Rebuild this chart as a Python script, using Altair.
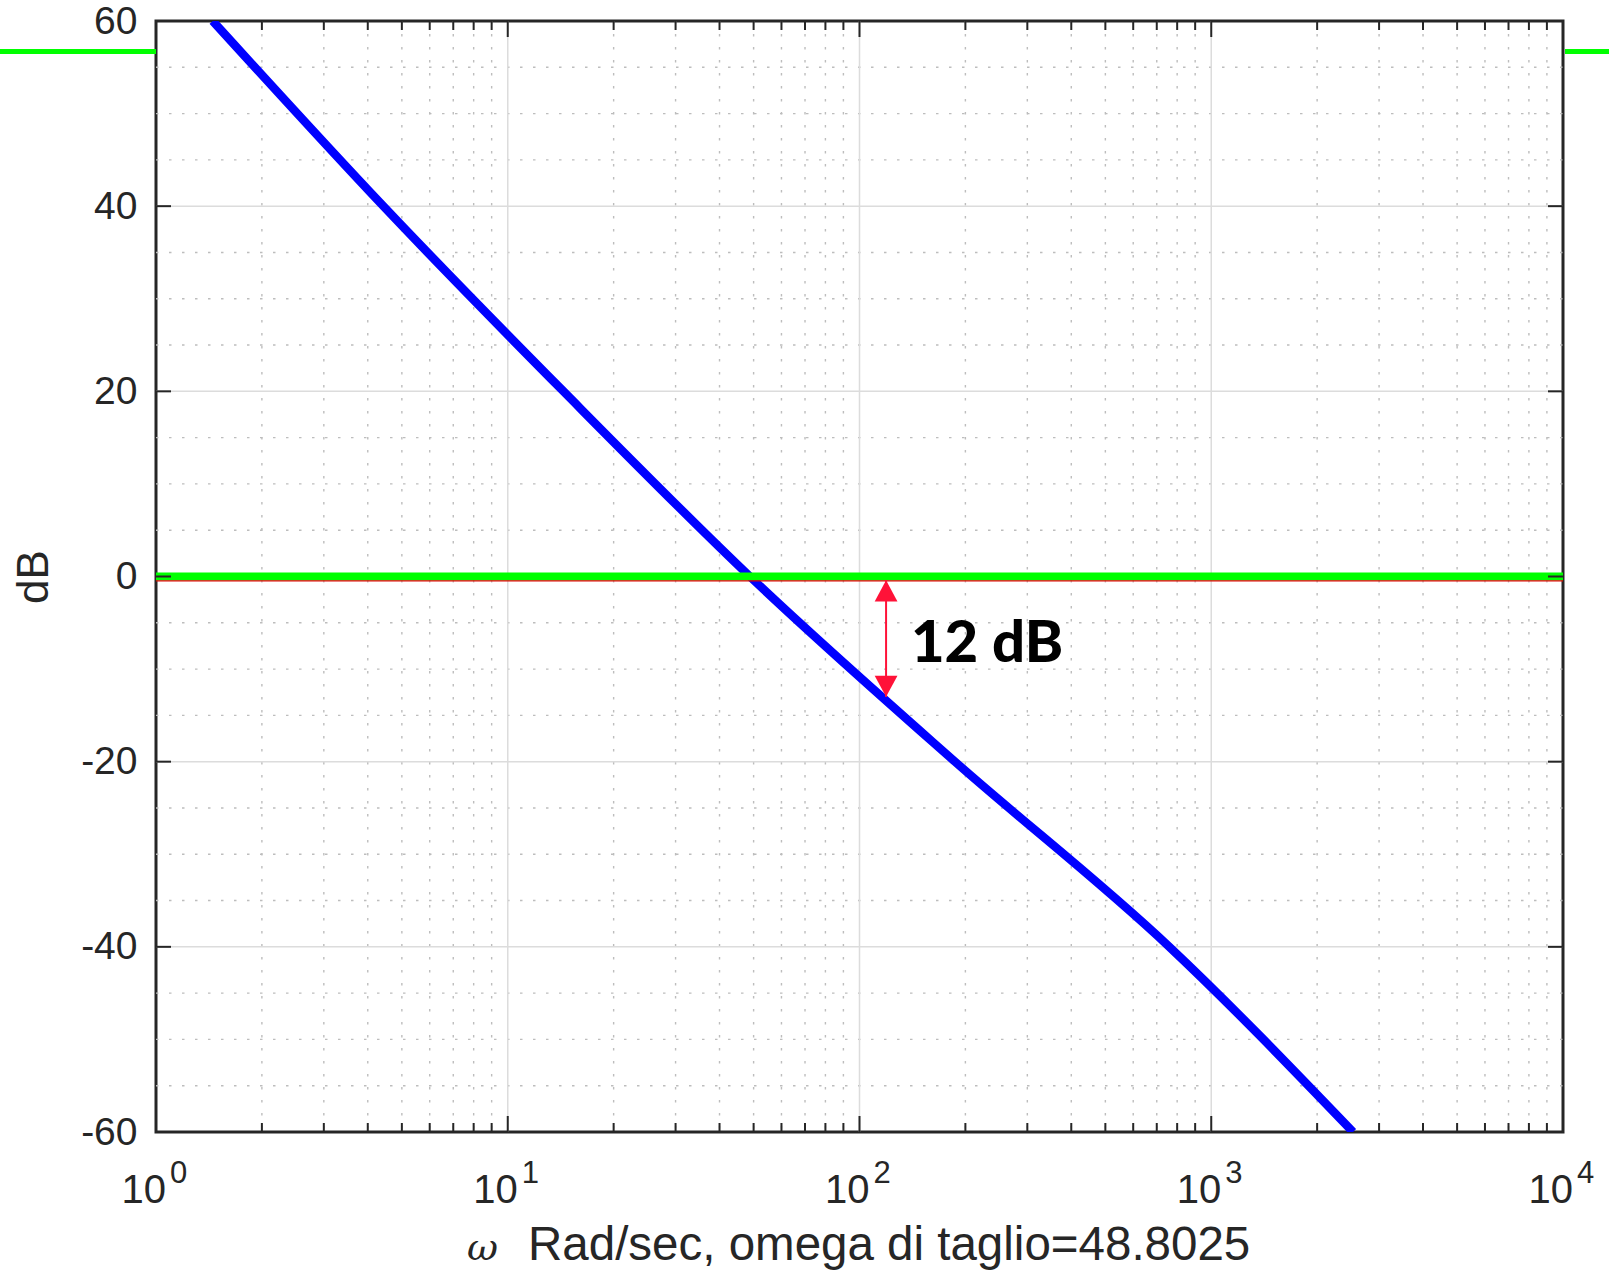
import altair as alt
import pandas as pd

# ---- data ----
omega = [1.45, 4.43, 14.4, 48.8, 186.8, 760, 2530]
mag_db = [60, 40, 20, 0, -20, -40, -60]

decades = [1, 10, 100, 1000, 10000]
decade_exp = ["0", "1", "2", "3", "4"]
x_major_grid = [10, 100, 1000]
x_minor = [m * d for d in [1, 10, 100, 1000] for m in range(2, 10)]
y_ticks = [-60, -40, -20, 0, 20, 40, 60]
y_major_grid = [-40, -20, 0, 20, 40]
y_minor = [v for v in range(-55, 60, 5) if v % 20 != 0]

crossover_db = 0
outer_green_db = 56.7
arrow_omega = 119
arrow_db = [-0.4, -13.0]
label_text = "12 dB"
label_omega = 140
label_db = -9.2
x_title_sym = "ω"
x_title_rest = "Rad/sec, omega di taglio=48.8025"
y_title = "dB"

W, H = 1407, 1111
FONT = "Liberation Sans"
AX = "#262626"

xs = alt.Scale(type="log", domain=[1, 10000], nice=False)
ys = alt.Scale(domain=[-60, 60], nice=False, zero=False)

YAXIS = alt.Axis(
    values=y_ticks, grid=False, ticks=False, domain=False,
    labelFontSize=39, labelFont=FONT, labelColor=AX, labelPadding=19,
    labelFlush=False, labelOverlap=False, labelBound=False,
    labelExpr="toString(datum.value)",
    title=y_title, titleFont=FONT, titleFontSize=44, titleFontWeight="normal",
    titleColor=AX, titlePadding=24)

df_line = pd.DataFrame({"w": omega, "db": mag_db})
df_dec = pd.DataFrame({"w": decades, "e": decade_exp, "b": ["10"] * len(decades)})
df_xmaj = pd.DataFrame({"w": x_major_grid})
df_xmin = pd.DataFrame({"w": x_minor})
df_ytick = pd.DataFrame({"db": y_ticks})
df_ymaj = pd.DataFrame({"db": y_major_grid})
df_ymin = pd.DataFrame({"db": y_minor})

X = lambda: alt.X("w:Q", scale=xs, axis=None)
Yn = lambda: alt.Y("db:Q", scale=ys, axis=YAXIS)

minor_y = alt.Chart(df_ymin).mark_rule(color="#bdbdbd", strokeWidth=1.4, strokeDash=[2.5, 10.5]).encode(
    y=Yn(), x=alt.value(0), x2=alt.value(W))
minor_x = alt.Chart(df_xmin).mark_rule(color="#bdbdbd", strokeWidth=1.4, strokeDash=[2.5, 10.5]).encode(
    x=X(), y=alt.value(0), y2=alt.value(H))
major_x = alt.Chart(df_xmaj).mark_rule(color="#dcdcdc", strokeWidth=1.5).encode(
    x=X(), y=alt.value(0), y2=alt.value(H))
major_y = alt.Chart(df_ymaj).mark_rule(color="#dcdcdc", strokeWidth=1.5).encode(
    y=Yn(), x=alt.value(0), x2=alt.value(W))

df_outer = pd.DataFrame({"db": [outer_green_db]})
outer_l = alt.Chart(df_outer).mark_rule(color="#00ff00", strokeWidth=5).encode(
    y=Yn(), x=alt.value(-156), x2=alt.value(0))
outer_r = alt.Chart(df_outer).mark_rule(color="#00ff00", strokeWidth=5).encode(
    y=Yn(), x=alt.value(W + 2), x2=alt.value(W + 46))

blue = alt.Chart(df_line).mark_line(color="#0000ff", strokeWidth=8.5, clip=True,
                                    interpolate="monotone").encode(x=X(), y=Yn())

df_zero = pd.DataFrame({"db": [crossover_db]})
green = alt.Chart(df_zero).mark_rule(color="#00ff00", strokeWidth=8).encode(
    y=Yn(), x=alt.value(0), x2=alt.value(W))
red_thin = alt.Chart(df_zero).mark_rule(color="#e00000", strokeWidth=1.3, yOffset=4.3).encode(
    y=Yn(), x=alt.value(0), x2=alt.value(W))

RED = "#ff1238"
df_arrow = pd.DataFrame({"w": [arrow_omega], "db": [arrow_db[0]], "db2": [arrow_db[1]]})
shaft = alt.Chart(df_arrow).mark_rule(color=RED, strokeWidth=2).encode(
    x=X(), y=Yn(), y2="db2:Q")
head_up = alt.Chart(df_arrow).mark_point(
    shape="M0,0L-1,1.86L1,1.86Z", filled=True, size=520, color=RED, opacity=1, strokeWidth=0).encode(
    x=X(), y=Yn())
head_dn = alt.Chart(df_arrow).mark_point(
    shape="M0,0L-1,-1.86L1,-1.86Z", filled=True, size=520, color=RED, opacity=1, strokeWidth=0).encode(
    x=X(), y=alt.Y("db2:Q", scale=ys, axis=YAXIS))

df_label = pd.DataFrame({"w": [label_omega], "db": [label_db], "t": [label_text]})
label = alt.Chart(df_label).mark_text(
    font="Lato", fontWeight=900, fontSize=58, color="black", align="left", baseline="alphabetic").encode(
    x=X(), y=Yn(), text="t:N")

# inward ticks
tick_rule = dict(color=AX, strokeWidth=2)
yt_l = alt.Chart(df_ytick).mark_rule(**tick_rule).encode(y=Yn(), x=alt.value(0), x2=alt.value(15))
yt_r = alt.Chart(df_ytick).mark_rule(**tick_rule).encode(y=Yn(), x=alt.value(W - 15), x2=alt.value(W))
xt_b = alt.Chart(df_dec).mark_rule(**tick_rule).encode(x=X(), y=alt.value(H - 16), y2=alt.value(H))
xt_t = alt.Chart(df_dec).mark_rule(**tick_rule).encode(x=X(), y=alt.value(0), y2=alt.value(16))
xm_b = alt.Chart(df_xmin).mark_rule(**tick_rule).encode(x=X(), y=alt.value(H - 9), y2=alt.value(H))
xm_t = alt.Chart(df_xmin).mark_rule(**tick_rule).encode(x=X(), y=alt.value(0), y2=alt.value(9))

# x tick labels 10^k
xl_base = alt.Chart(df_dec).mark_text(
    font=FONT, fontSize=40, color=AX, align="right", baseline="alphabetic", dx=10).encode(
    x=X(), y=alt.value(H + 71), text="b:N")
xl_exp = alt.Chart(df_dec).mark_text(
    font=FONT, fontSize=31, color=AX, align="left", baseline="alphabetic", dx=14).encode(
    x=X(), y=alt.value(H + 51), text="e:N")

df_t1 = pd.DataFrame({"t": [x_title_sym]})
df_t2 = pd.DataFrame({"t": [x_title_rest]})
xt_sym = alt.Chart(df_t1).mark_text(
    font="DejaVu Serif", fontStyle="italic", fontSize=38, color=AX, align="left", baseline="alphabetic").encode(
    x=alt.value(311), y=alt.value(H + 128), text="t:N")
xt_rest = alt.Chart(df_t2).mark_text(
    font=FONT, fontSize=47.5, color=AX, align="left", baseline="alphabetic").encode(
    x=alt.value(372), y=alt.value(H + 128), text="t:N")

chart = alt.layer(
    minor_y, minor_x, major_x, major_y, outer_l, outer_r, blue, green, red_thin,
    shaft, head_up, head_dn, label, yt_l, yt_r, xt_b, xt_t, xm_b, xm_t,
    xl_base, xl_exp, xt_sym, xt_rest
).properties(
    width=W, height=H,
    autosize=alt.AutoSizeParams(type="none"),
    padding={"left": 156, "top": 21, "right": 46, "bottom": 146},
    background="white",
).configure_view(stroke=AX, strokeWidth=3)

chart.save("out.html", embed_options={"renderer": "svg", "actions": False})
